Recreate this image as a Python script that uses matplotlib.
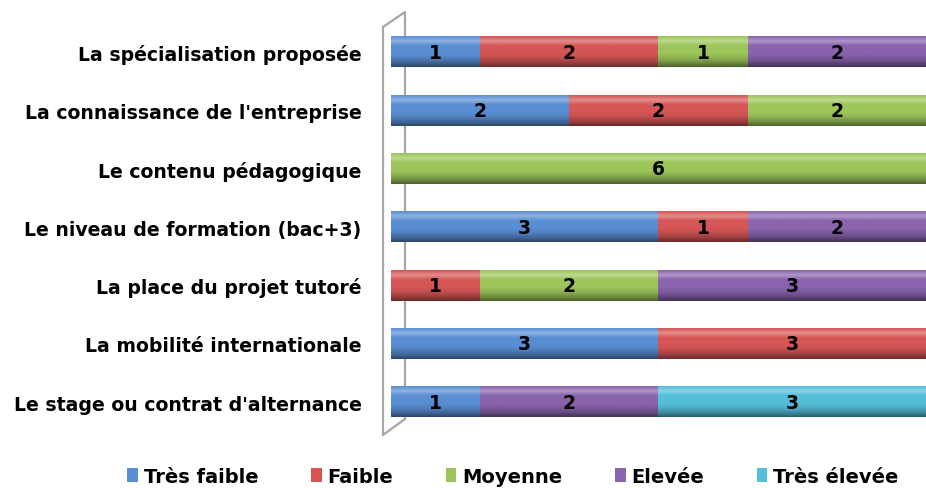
import numpy as np
import matplotlib.pyplot as plt
from matplotlib.patches import Patch
from matplotlib.lines import Line2D
from matplotlib.colors import to_rgb

categories = [
    "La spécialisation proposée",
    "La connaissance de l'entreprise",
    "Le contenu pédagogique",
    "Le niveau de formation (bac+3)",
    "La place du projet tutoré",
    "La mobilité internationale",
    "Le stage ou contrat d'alternance",
]
series = ["Très faible", "Faible", "Moyenne", "Elevée", "Très élevée"]
tres_faible = [1, 2, 0, 3, 0, 3, 1]
faible = [2, 2, 0, 1, 1, 3, 0]
moyenne = [1, 2, 6, 0, 2, 0, 0]
elevee = [2, 0, 0, 2, 3, 0, 2]
tres_elevee = [0, 0, 0, 0, 0, 0, 3]
colors = ["#5A8ED3", "#D65656", "#9DC65A", "#8A64AE", "#55BFDA"]

values = [tres_faible, faible, moyenne, elevee, tres_elevee]

plt.rcParams['font.family'] = ['DejaVu Sans']
fig = plt.figure(figsize=(9.26, 4.89), dpi=100)
ax = fig.add_axes([0.422, 0.104, 0.578, 0.859])
ax.patch.set_visible(False)

n = len(categories)
ypos = np.arange(n)[::-1]  # first category on top
h = 0.52

# vertical shading profile for the cylinder look
t = np.linspace(0, 1, 40)
shade = np.where(t < 0.3, 1.0 + 0.2 * (1 - np.abs(t - 0.15) / 0.15).clip(0), 1.0)
shade = shade * np.where(t > 0.5, 1 - 0.5 * ((t - 0.5) / 0.5) ** 1.8, 1.0)

left = np.zeros(n)
for vals, col in zip(values, colors):
    vals = np.array(vals, dtype=float)
    base = np.array(to_rgb(col))
    grad = np.clip(base[None, :] * shade[:, None], 0, 1)
    grad = np.where(shade[:, None] > 1, base + (1 - base) * (shade[:, None] - 1) * 1.6, grad)
    grad = np.clip(grad, 0, 1)[:, None, :]
    for i in range(n):
        if vals[i] <= 0:
            continue
        ax.imshow(grad, extent=[left[i], left[i] + vals[i], ypos[i] - h / 2, ypos[i] + h / 2],
                  aspect='auto', interpolation='bilinear', zorder=2)
        ax.text(left[i] + vals[i] / 2, ypos[i], f"{int(vals[i])}", ha='center', va='center',
                fontsize=13.5, fontweight='bold', color='black', zorder=3)
    left += vals

ax.set_xlim(0, 6)
ax.set_ylim(-0.6, n - 0.4)
ax.set_yticks(ypos)
ax.set_yticklabels(categories, fontsize=13.6, fontweight='bold')
ax.tick_params(axis='y', length=0, pad=21)
ax.set_xticks([])
for s in ax.spines.values():
    s.set_visible(False)

# 3D wall outline on the left
wall = dict(color='#A6A6A6', lw=1.6, transform=fig.transFigure, zorder=0)
W, H = 926, 489
def px(x, y):
    return x / W, 1 - y / H
pts = [px(383, 28), px(405, 13), px(405, 420), px(383, 436), px(383, 28)]
fig.add_artist(Line2D([p[0] for p in pts], [p[1] for p in pts], **wall))

handles = [Patch(facecolor=c, edgecolor='none') for c in colors]
fig.legend(handles, series, loc='lower center', bbox_to_anchor=(0.554, -0.032), ncol=5,
           frameon=False, prop={'size': 14, 'weight': 'bold'}, handlelength=0.55,
           handleheight=0.75, handletextpad=0.3, columnspacing=2.7)

fig.savefig("out.png", dpi=100)
